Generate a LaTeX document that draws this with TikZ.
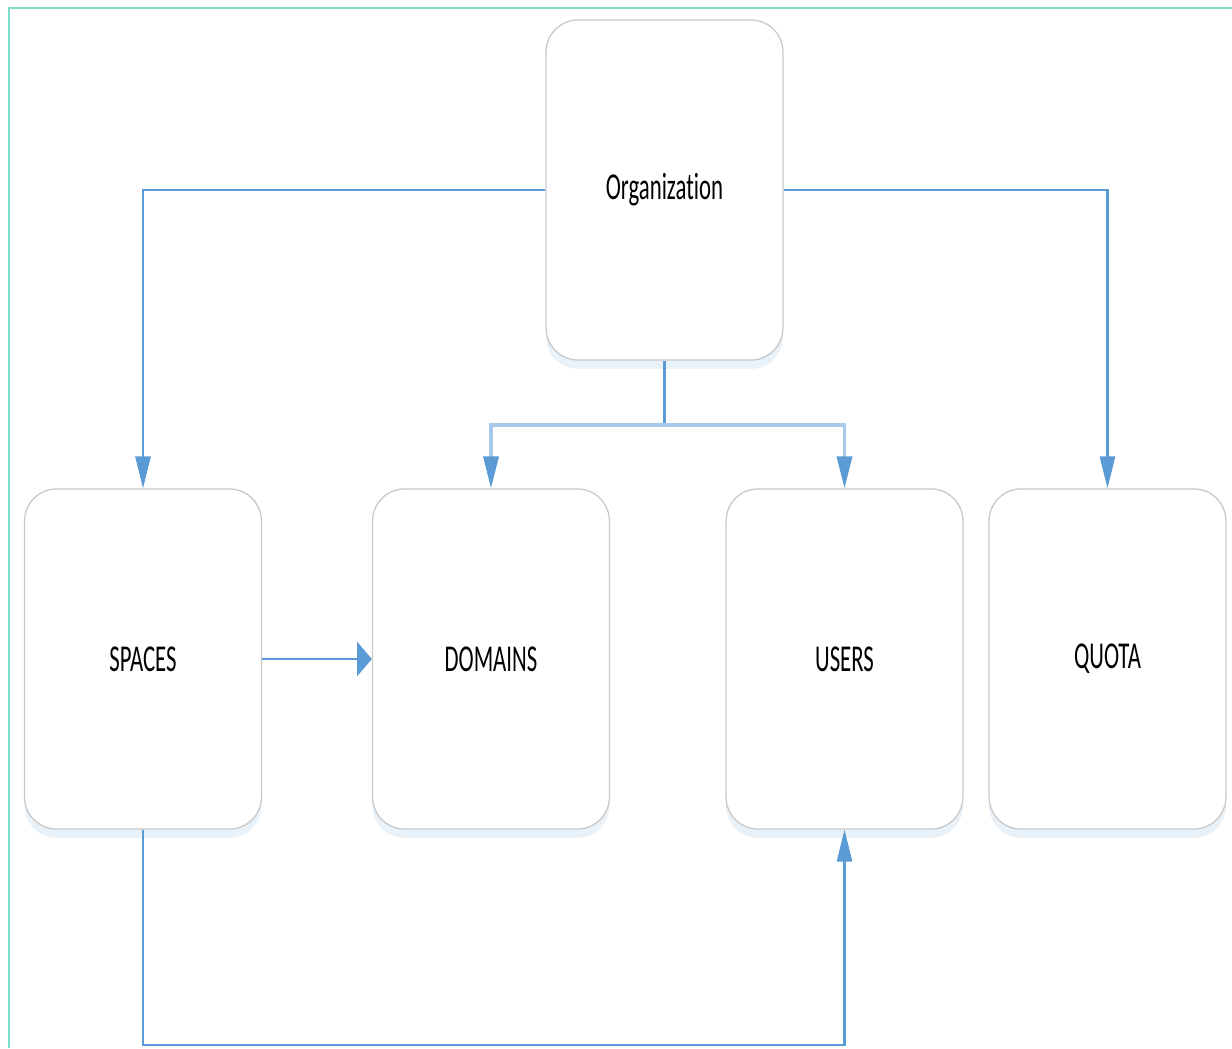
\documentclass[tikz,border=0pt]{standalone}
\usepackage{fontspec}
\setmainfont[Ligatures=NoCommon]{Carlito}
\usetikzlibrary{arrows,arrows.meta,positioning,shadows}
\definecolor{linkblue}{HTML}{5B9BD5}
\definecolor{busblue}{HTML}{A9C9EA}
\definecolor{framegreen}{HTML}{7FDDCB}
\definecolor{boxgray}{HTML}{C8C8C8}
\newcommand{\boxlabel}[1]{\scalebox{0.6}[1]{#1}}
\begin{document}
\begin{tikzpicture}[x=0.025cm, y=-0.025cm, line width=1.6pt,
  entity/.style={rectangle, rounded corners=0.8cm, draw=boxgray, line width=0.9pt, fill=white,
    minimum width=5.92cm, minimum height=8.5cm, font=\fontsize{27}{30}\selectfont,
    drop shadow={shadow xshift=0pt, shadow yshift=-0.22cm, fill=linkblue!30, opacity=0.45}},
  link/.style={draw=linkblue, -{Triangle[length=0.8cm, width=0.38cm, fill=linkblue, color=linkblue]}},
  sidelink/.style={draw=linkblue, -{Triangle[length=0.37cm, width=0.85cm]}}]
\useasboundingbox (0,0) rectangle (1232,1048);
% frame
\draw[framegreen, line width=2pt] (1232,8) -- (9,8) -- (9,1048);
% entities
\node[entity] (org) at (664.5,190) {\boxlabel{Organization}};
\node[entity] (spaces) at (143,659) {\boxlabel{SPACES}};
\node[entity] (domains) at (491,659) {\boxlabel{DOMAINS}};
\node[entity] (users) at (844.5,659) {\boxlabel{USERS}};
\node[entity] (quota) at (1107.5,659) {\boxlabel{QUOTA}};
\coordinate (bus) at (664.5,425);
\coordinate (low) at (143,1045);
% links
\draw[link] (org.west) -| (spaces.north);
\draw[link] (org.east) -| (quota.north);
\draw[draw=linkblue] (org.south) -- (bus);
\draw[link, draw=busblue, line width=2.2pt] (bus) -| (domains.north);
\draw[link, draw=busblue, line width=2.2pt] (bus) -| (users.north);
\draw[sidelink] (spaces.east) -- (domains.west);
\draw[link] (spaces.south) -- (low) -| (users.south);
\end{tikzpicture}
\end{document}
